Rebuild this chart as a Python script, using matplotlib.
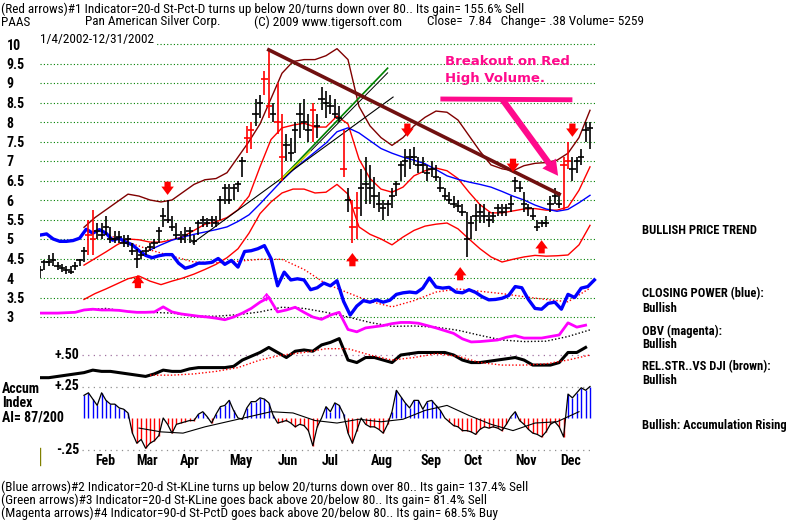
import numpy as np
import matplotlib.pyplot as plt

# ---- price bars, one every 2 trading days (day 0 = 1/4/2002) ----
bar_step = 2
lo = [4.0, 4.2, 4.3, 4.3, 4.2, 4.15, 4.1, 4.1, 4.2, 4.3, 4.4, 4.6, 4.6, 5.0, 5.0, 5.1, 4.9, 4.9, 4.9, 4.8,
      4.8, 4.6, 4.25, 4.5, 4.6, 4.7, 4.75, 4.9, 5.3, 5.4, 5.2, 5.0, 4.9, 4.9, 4.9, 4.85, 5.1, 5.3, 5.3, 5.3,
      5.3, 5.5, 5.9, 5.9, 6.0, 6.2, 6.6, 7.2, 7.3, 7.9, 8.1, 8.7, 8.1, 8.0, 7.7, 6.5, 7.0, 7.0, 7.2, 7.6,
      7.8, 7.5, 7.5, 7.6, 8.3, 8.1, 8.2, 8.1, 8.0, 6.6, 5.7, 4.9, 5.0, 5.6, 5.9, 5.9, 5.8, 5.7, 5.5, 5.6,
      5.8, 6.1, 6.5, 6.6, 6.8, 6.9, 6.7, 6.7, 6.5, 6.6, 6.5, 6.2, 6.0, 5.9, 5.8, 5.7, 5.6, 4.55, 5.0, 5.2,
      5.4, 5.4, 5.3, 5.4, 5.6, 5.6, 5.6, 5.7, 6.2, 6.2, 5.7, 5.6, 5.5, 5.2, 5.3, 5.3, 5.7, 5.9, 5.8, 5.75,
      6.8, 6.5, 6.7, 6.9, 7.5, 7.3]
hi = [4.3, 4.45, 4.6, 4.65, 4.4, 4.35, 4.3, 4.3, 4.4, 4.5, 4.8, 5.5, 5.75, 5.4, 5.4, 5.6, 5.3, 5.2, 5.2, 5.1,
      5.1, 4.9, 4.75, 4.7, 4.8, 4.9, 5.0, 5.3, 5.8, 6.0, 5.6, 5.4, 5.2, 5.3, 5.3, 5.1, 5.5, 5.6, 5.55, 5.6,
      5.6, 6.1, 6.4, 6.4, 6.4, 6.5, 7.1, 7.9, 8.0, 8.6, 8.7, 9.3, 9.85, 8.5, 9.0, 8.2, 7.7, 7.6, 8.0, 8.5,
      8.6, 8.2, 8.5, 8.2, 8.9, 8.8, 8.7, 8.6, 8.4, 7.8, 6.3, 6.0, 6.2, 6.8, 7.1, 6.9, 6.6, 6.2, 6.0, 6.0,
      6.3, 6.5, 7.0, 7.3, 7.3, 7.35, 7.1, 7.1, 6.9, 7.0, 6.9, 6.6, 6.3, 6.2, 6.1, 6.0, 5.9, 5.7, 5.6, 5.9,
      5.9, 5.9, 5.7, 5.7, 5.9, 5.9, 5.9, 6.1, 6.6, 6.5, 6.2, 5.9, 5.8, 5.5, 5.5, 5.6, 6.1, 6.3, 6.2, 7.1,
      7.5, 7.1, 7.1, 7.3, 8.0, 8.0]
cl = [4.2, 4.4, 4.4, 4.45, 4.3, 4.25, 4.2, 4.15, 4.3, 4.45, 4.7, 5.1, 5.0, 5.2, 5.1, 5.3, 5.0, 5.0, 5.05, 4.9,
      5.0, 4.7, 4.5, 4.6, 4.7, 4.8, 4.9, 5.2, 5.6, 5.5, 5.3, 5.1, 5.0, 5.1, 5.2, 4.95, 5.4, 5.5, 5.4, 5.5,
      5.4, 6.0, 6.3, 6.0, 6.3, 6.4, 7.0, 7.6, 7.8, 8.2, 8.5, 9.1, 8.4, 8.2, 8.0, 7.1, 7.4, 7.2, 7.8, 8.2,
      8.0, 7.8, 8.3, 7.9, 8.6, 8.5, 8.4, 8.2, 8.1, 6.8, 6.0, 5.3, 5.8, 6.3, 6.4, 6.3, 6.1, 5.9, 5.8, 5.9,
      6.1, 6.4, 6.9, 7.0, 7.1, 7.1, 6.9, 6.9, 6.7, 6.8, 6.6, 6.3, 6.1, 6.0, 5.9, 5.85, 5.7, 5.0, 5.4, 5.6,
      5.7, 5.6, 5.5, 5.6, 5.8, 5.7, 5.8, 5.9, 6.5, 6.3, 5.9, 5.8, 5.6, 5.3, 5.4, 5.4, 5.9, 6.1, 5.9, 6.9,
      7.0, 6.8, 7.0, 7.1, 7.8, 7.84]
red_days = [22, 24, 94, 96, 102, 104, 108, 110, 124, 138, 142, 144, 238, 240]

# ---- bands and averages, one value every 5 days from day 20 ----
band_start, band_step = 20, 5
upper = [5.3, 5.55, 5.75, 5.95, 6.15, 6.1, 6.0, 5.95, 6.0, 6.2, 6.4, 6.52, 6.55, 6.7, 7.1, 7.5, 7.95, 8.6,
         9.25, 9.55, 9.6, 9.6, 9.7, 9.88, 9.6, 8.4, 7.9, 7.6, 7.4, 7.6, 7.9, 8.12, 8.28, 8.25, 8.05, 7.65,
         7.25, 6.9, 6.8, 6.75, 6.88, 6.94, 6.96, 7.02, 7.2, 7.6, 8.3]
middle = [4.33, 4.5, 4.67, 4.85, 5.0, 4.98, 4.92, 4.92, 4.98, 5.06, 5.22, 5.38, 5.44, 5.55, 5.75, 6.1, 6.85,
          7.55, 7.85, 7.92, 7.97, 7.87, 7.87, 8.15, 7.95, 7.05, 6.55, 6.28, 6.2, 6.33, 6.62, 6.75, 6.82, 6.75,
          6.55, 6.2, 5.88, 5.67, 5.67, 5.72, 5.77, 5.78, 5.74, 5.74, 5.82, 6.25, 6.85]
lower = [3.45, 3.6, 3.72, 3.85, 3.98, 4.05, 3.92, 3.83, 3.92, 4.0, 4.1, 4.22, 4.35, 4.52, 4.75, 5.15, 5.65,
         5.95, 6.18, 6.28, 6.28, 6.18, 6.2, 6.4, 6.15, 5.31, 5.12, 5.0, 4.85, 5.05, 5.22, 5.33, 5.38, 5.41,
         5.26, 5.0, 4.75, 4.54, 4.41, 4.48, 4.54, 4.58, 4.56, 4.57, 4.59, 4.85, 5.35]
ma_start, ma_step = 50, 5
ma_blue = [4.72, 4.85, 4.97, 5.05, 5.12, 5.18, 5.24, 5.31, 5.45, 5.62, 5.9, 6.2, 6.5, 6.77, 7.0, 7.23, 7.46,
           7.75, 7.85, 7.72, 7.52, 7.32, 7.2, 7.1, 7.02, 6.93, 6.78, 6.62, 6.53, 6.46, 6.4, 6.33, 6.22, 6.1,
           6.0, 5.87, 5.77, 5.71, 5.76, 5.93, 6.12]

# trendlines (day, price)
down_trend = ([104, 236], [9.85, 6.15])
support = ([69.5, 160.5], [4.9, 8.64])
green_trend = ([109, 158], [6.5, 9.38])

# ---- closing power (blue) drawn in price units, every 3 days ----
cp_step = 3
cpower = [5.1, 5.13, 5.0, 4.94, 4.94, 4.96, 5.02, 5.25, 5.15, 5.24, 5.15, 4.97, 5.02, 4.92, 4.85, 4.7, 4.58,
          4.52, 4.57, 4.6, 4.6, 4.38, 4.25, 4.3, 4.38, 4.38, 4.4, 4.5, 4.35, 4.45, 4.28, 4.68, 4.7, 4.75,
          4.83, 4.5, 3.8, 4.15, 3.95, 3.98, 3.95, 3.7, 3.75, 3.87, 3.8, 3.93, 3.4, 3.05, 3.28, 3.42, 3.38,
          3.44, 3.38, 3.43, 3.58, 3.62, 3.64, 3.62, 3.74, 4.0, 3.77, 3.74, 3.76, 3.64, 3.62, 3.7, 3.63, 3.52,
          3.44, 3.45, 3.48, 3.55, 3.78, 3.75, 3.45, 3.22, 3.2, 3.35, 3.38, 3.2, 3.58, 3.5, 3.74, 3.78, 3.95]
cp_ma_start, cp_ma_step = 30, 10
cpower_ma = [5.12, 4.92, 4.72, 4.56, 4.41, 4.39, 4.43, 4.48, 4.48, 4.22, 3.85, 3.62, 3.4, 3.26, 3.42, 3.64,
             3.72, 3.66, 3.6, 3.52, 3.45, 3.39, 3.74]

# ---- OBV (magenta) in price units, every 4 days ----
obv_step = 4
obv = [3.1, 3.1, 3.1, 3.11, 3.12, 3.18, 3.2, 3.18, 3.18, 3.17, 3.14, 3.12, 3.12, 3.13, 3.26, 3.13, 3.08,
       3.05, 3.02, 3.0, 2.97, 2.93, 3.0, 3.1, 3.22, 3.38, 3.5, 3.13, 3.18, 3.25, 3.12, 3.0, 2.94, 3.05,
       3.12, 2.68, 2.62, 2.72, 2.75, 2.78, 2.83, 2.86, 2.86, 2.84, 2.78, 2.72, 2.65, 2.58, 2.44, 2.36, 2.37,
       2.39, 2.41, 2.48, 2.52, 2.46, 2.46, 2.46, 2.5, 2.54, 2.85, 2.74, 2.79]
obv_ma_start, obv_ma_step = 20, 10
obv_ma = [3.18, 3.22, 3.14, 3.12, 3.1, 3.02, 3.02, 3.06, 3.13, 3.25, 3.22, 3.12, 3.0, 2.86, 2.76, 2.77, 2.74,
          2.66, 2.53, 2.41, 2.37, 2.38, 2.5, 2.67]

# ---- relative strength vs DJI (brown/black), every 4 days ----
rs_step = 4
relstr = [0.32, 0.32, 0.33, 0.34, 0.35, 0.36, 0.38, 0.37, 0.37, 0.36, 0.35, 0.34, 0.33, 0.35, 0.38, 0.37,
          0.37, 0.39, 0.4, 0.4, 0.4, 0.4, 0.41, 0.46, 0.49, 0.52, 0.56, 0.52, 0.48, 0.53, 0.54, 0.53, 0.58,
          0.6, 0.63, 0.46, 0.44, 0.48, 0.48, 0.46, 0.44, 0.5, 0.51, 0.52, 0.52, 0.52, 0.52, 0.5, 0.46, 0.44,
          0.44, 0.45, 0.46, 0.47, 0.48, 0.46, 0.42, 0.42, 0.42, 0.44, 0.52, 0.52, 0.56]
rs_ma_start, rs_ma_step = 50, 10
relstr_ma = [0.34, 0.34, 0.35, 0.37, 0.4, 0.46, 0.5, 0.52, 0.55, 0.55, 0.5, 0.46, 0.48, 0.51, 0.49, 0.44,
             0.42, 0.42, 0.43, 0.46, 0.5]

# ---- accumulation index, every 2 days from day 20 ----
ai_start, ai_step = 20, 2
accum = [0.18, 0.2, 0.15, 0.1, 0.2, 0.14, 0.11, 0.11, 0.08, 0.07, 0.04, -0.12, -0.2, -0.17, -0.24, -0.2,
         -0.18, -0.14, 0.0, -0.05, -0.12, -0.05, -0.04, -0.03, -0.02, -0.02, 0.03, 0.05, 0.01, -0.04, 0.03,
         0.09, 0.1, 0.14, 0.06, 0.0, -0.01, 0.08, 0.13, 0.13, 0.16, 0.15, 0.12, 0.02, -0.04, -0.03, -0.02,
         -0.04, -0.07, -0.05, -0.06, -0.1, -0.22, -0.07, 0.0, 0.09, 0.05, 0.12, 0.1, 0.03, -0.12, -0.2, -0.1,
         0.0, -0.05, -0.07, -0.07, -0.09, -0.12, -0.05, 0.05, 0.22, 0.17, 0.12, 0.08, 0.14, 0.14, 0.07, 0.13,
         0.14, 0.1, 0.06, 0.0, -0.03, -0.06, -0.07, -0.1, -0.1, -0.11, -0.13, -0.09, -0.07, -0.08, -0.07,
         -0.08, -0.1, -0.05, 0.01, 0.05, -0.02, -0.05, -0.09, -0.12, -0.13, -0.15, -0.11, -0.05, -0.03,
         -0.07, -0.15, 0.19, 0.16, 0.2, 0.24, 0.22, 0.25]
ai_ma_start, ai_ma_step = 45, 10
accum_ma = [-0.08, -0.11, -0.12, -0.07, -0.03, 0.01, 0.05, 0.04, -0.02, -0.04, -0.01, -0.03, -0.01, 0.06,
            0.1, 0.02, -0.05, -0.1, -0.04, -0.03, 0.05]

# ---- signal arrows (day, tip price) ----
sell_days = [58, 167, 215, 242]
sell_tips = [6.13, 7.62, 6.72, 7.62]
buy_days = [44.5, 142, 191, 228]
buy_tips = [4.08, 4.64, 4.28, 4.97]
magenta_day, magenta_tip = 103, 3.62

price_levels = [10, 9.5, 9, 8.5, 8, 7.5, 7, 6.5, 6, 5.5, 5, 4.5, 4, 3.5, 3]
ai_levels = [0.5, 0.25, -0.25]
ai_labels = ['+.50', '+.25', '-.25']
months = ['Feb', 'Mar', 'Apr', 'May', 'Jun', 'Jul', 'Aug', 'Sep', 'Oct', 'Nov', 'Dec']
month_days = [29.5, 48.6, 68.2, 91.4, 112.7, 131.8, 155.5, 177.7, 196.8, 220.9, 241.4]

header1 = "(Red arrows)#1 Indicator=20-d St-Pct-D turns up below 20/turns down over 80.. Its gain= 155.6% Sell"
footer = ["(Blue arrows)#2 Indicator=20-d St-KLine turns up below 20/turns down over 80.. Its gain= 137.4% Sell",
          "(Green arrows)#3 Indicator=20-d St-KLine goes back above 20/below 80.. Its gain= 81.4% Sell",
          "(Magenta arrows)#4 Indicator=90-d St-PctD goes back above 20/below 80.. Its gain= 68.5% Buy"]
right_notes = [("BULLISH PRICE TREND", 230), ("CLOSING POWER (blue):", 294), ("Bullish", 308),
               ("OBV (magenta):", 331), ("Bullish", 345), ("REL.STR..VS DJI (brown):", 367),
               ("Bullish", 381), ("Bullish: Accumulation Rising", 426)]

W, H = 800, 527
narrow = ['Roboto Condensed', 'DejaVu Sans']
fig = plt.figure(figsize=(W / 100, H / 100), dpi=100)
fig.patch.set_facecolor('white')

# both panels share one box; y limits are set so each scale lands where it should
L, R, T, B = 40, 597, 40, 470
box = [L / W, 1 - B / H, (R - L) / W, (B - T) / H]
ax = fig.add_axes(box)
ax2 = fig.add_axes(box, sharex=ax)
ax2.patch.set_alpha(0)
xmax = (R - L) / 2.2
ax.set_xlim(0, xmax)
ax.set_ylim(10 - (B - 44) / 39, 10 + (44 - T) / 39)
ax2.set_ylim((418 - B) / 126, (418 - T) / 126)
for a in (ax, ax2):
    for s in a.spines.values():
        s.set_visible(False)
    a.tick_params(length=0)
    a.set_xticks([])
ax2.set_yticks([])
ax.set_yticks(price_levels)
ax.set_yticklabels([f'{v:g}' for v in price_levels], fontsize=10, fontweight='bold', family=narrow)
ax.tick_params(axis='y', pad=24)
for t in ax.get_yticklabels():
    t.set_horizontalalignment('left')

ax.hlines(price_levels, 0, xmax, colors='#008000', linestyles=(0, (1, 2)), lw=0.8)
ax2.hlines(ai_levels, 19, 251, colors=['#a070a0', '#909090', '#909090'], linestyles=(0, (1, 3.5)), lw=0.9)

# price bars
bar_days = np.arange(0, bar_step * len(hi), bar_step)
bar_cols = ['red' if d in red_days else 'black' for d in bar_days]
ax.vlines(bar_days, lo, hi, colors=bar_cols, lw=1.2, zorder=4)
ax.scatter(bar_days, cl, marker='_', s=22, c=bar_cols, linewidths=1.2, zorder=4)

bd = band_start + band_step * np.arange(len(upper))
ax.plot(bd, upper, color='#800000', lw=1)
ax.plot(bd, middle, color='#ff0000', lw=1)
ax.plot(bd, lower, color='#ff0000', lw=1)
ax.plot(ma_start + ma_step * np.arange(len(ma_blue)), ma_blue, color='#0000ff', lw=1)

ax.plot(*down_trend, color='#701010', lw=2.6, zorder=5)
ax.plot(*support, color='black', lw=0.8)
ax.plot(*green_trend, color='#008000', lw=1.2)
ax.plot(green_trend[0], [green_trend[1][0] - 0.05, green_trend[1][1] - 0.12], color='black', lw=0.7)
ax.plot([green_trend[0][0], green_trend[0][0] + 14], [green_trend[1][0], green_trend[1][0] + 0.75],
        color='#e0e000', lw=1)

ax.plot(cp_step * np.arange(len(cpower)), cpower, color='#0000ff', lw=2.4, zorder=3)
ax.plot(cp_ma_start + cp_ma_step * np.arange(len(cpower_ma)), cpower_ma, color='#ff0000', lw=1,
        ls=(0, (1, 1.5)))
ax.plot(obv_step * np.arange(len(obv)), obv, color='#ff00ff', lw=2, zorder=3)
ax.plot(obv_ma_start + obv_ma_step * np.arange(len(obv_ma)), obv_ma, color='black', lw=1,
        ls=(0, (1, 1.5)))

arrow_style = 'simple,head_width=0.9,head_length=0.6,tail_width=0.45'
for d, tip in zip(sell_days, sell_tips):
    ax.annotate('', xy=(d, tip), xytext=(d, tip + 0.34),
                arrowprops=dict(arrowstyle=arrow_style, color='#ff0000', lw=0, shrinkA=0, shrinkB=0),
                zorder=6)
for d, tip in zip(buy_days, buy_tips):
    ax.annotate('', xy=(d, tip), xytext=(d, tip - 0.34),
                arrowprops=dict(arrowstyle=arrow_style, color='#ff0000', lw=0, shrinkA=0, shrinkB=0),
                zorder=6)
ax.annotate('', xy=(magenta_day, magenta_tip), xytext=(magenta_day, magenta_tip - 0.2),
            arrowprops=dict(arrowstyle='->,head_width=0.25,head_length=0.3', color='#ff00ff', lw=1,
                            shrinkA=0, shrinkB=0))

# breakout note
pink = '#ff0a8c'
ax.text(184, 9.33, 'Breakout on Red\nHigh Volume.', color=pink, fontsize=9.5, fontweight='bold',
        va='center', ha='left', linespacing=1.45)
ax.plot([182, 242], [8.59, 8.57], color=pink, lw=3.5, solid_capstyle='butt')
ax.annotate('', xy=(235.5, 6.62), xytext=(210, 8.59),
            arrowprops=dict(arrowstyle='simple,head_width=1.2,head_length=1.1,tail_width=0.45',
                            color=pink, lw=0, shrinkA=0, shrinkB=0), zorder=7)

# lower panel
rd = rs_step * np.arange(len(relstr))
ax2.plot(rd, relstr, color='black', lw=2.2)
ax2.plot(rs_ma_start + rs_ma_step * np.arange(len(relstr_ma)), relstr_ma, color='#ff0000', lw=1,
         ls=(0, (1, 1.5)))
ad = ai_start + ai_step * np.arange(len(accum))
acc = np.array(accum)
ax2.vlines(ad, 0, acc, colors=np.where(acc > 0, '#0000ff', '#ff0000'), lw=1)
ax2.plot(ad, acc, color='black', lw=0.9)
ax2.plot(ai_ma_start + ai_ma_step * np.arange(len(accum_ma)), accum_ma, color='black', lw=0.8)
for v, lab in zip(ai_levels, ai_labels):
    ax2.text(18, v, lab, ha='right', va='center', fontsize=10, fontweight='bold', family=narrow)
for m, d in zip(months, month_days):
    ax2.text(d, -0.34, m, ha='center', va='center', fontsize=10, fontweight='bold', family=narrow)
ax2.plot([0, 0], [-0.24, -0.37], color='#808000', lw=1)

# page text
def ptext(x, y, s, **kw):
    fig.text(x / W, 1 - y / H, s, va='center', **kw)

ptext(1, 9, header1, fontsize=9.5, family=narrow)
ptext(1, 22, 'PAAS', fontsize=9.5, family=narrow)
ptext(85, 22, 'Pan American Silver Corp.', fontsize=9.5, family=narrow)
ptext(254, 22, '(C) 2009 www.tigersoft.com', fontsize=9.5, family=narrow)
ptext(427, 22, 'Close=  7.84   Change= .38 Volume= 5259', fontsize=9.5, family=narrow)
ptext(40, 39, '1/4/2002-12/31/2002', fontsize=9.5, family=narrow,
      bbox=dict(facecolor='white', edgecolor='none', pad=0.5))
for i, s in enumerate(footer):
    ptext(1, 487 + 13 * i, s, fontsize=9.5, family=narrow)
for s, y in right_notes:
    ptext(642, y, s, fontsize=9, fontweight='bold', family=narrow)
for i, s in enumerate(['Accum', 'Index', 'AI= 87/200']):
    ptext(2, 389 + 14 * i, s, fontsize=10, fontweight='bold', family=narrow)

fig.savefig('out.png', dpi=100, facecolor='white')
